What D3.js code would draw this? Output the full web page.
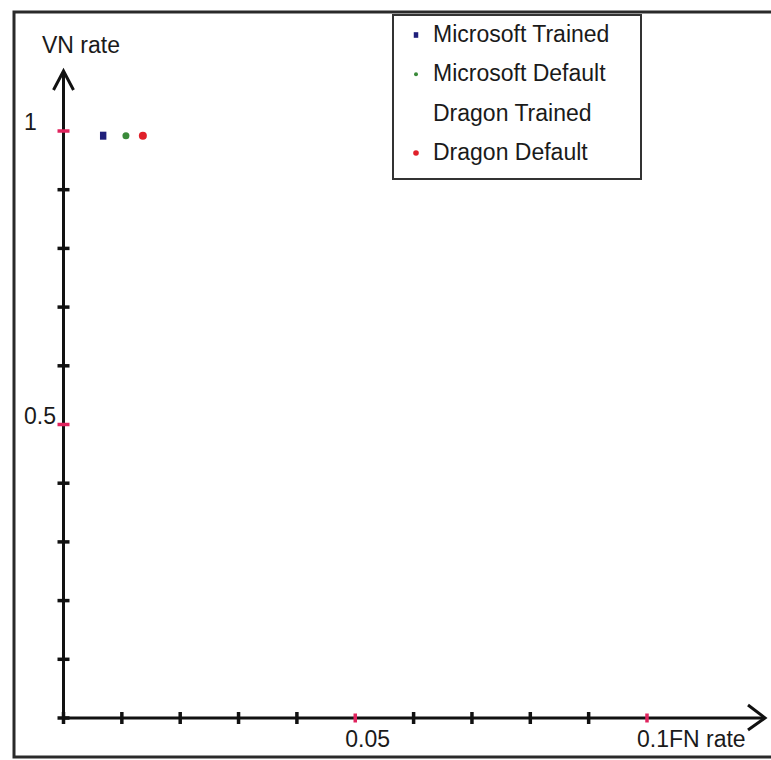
<!DOCTYPE html>
<html>
<head>
<meta charset="utf-8">
<script src="https://cdn.jsdelivr.net/npm/d3@7"></script>
<style>
  html, body { margin: 0; padding: 0; background: #fff; }
  svg { display: block; }
  text { font-family: "Liberation Sans", Arial, sans-serif; fill: #1a1a1a; }
</style>
</head>
<body>
<svg id="chart" width="771" height="760"></svg>
<script>
// Series and their measured (FN rate, VN rate) points
const seriesNames  = ["Microsoft Trained", "Microsoft Default", "Dragon Trained", "Dragon Default"];
const seriesColors = ["#1f1f7a", "#3a8a3a", "#ffffff", "#e0202a"];
const seriesShapes = ["square", "circle", "none", "circle"];
const fnRate = [0.0068, 0.0107, null, 0.0136];
const vnRate = [0.992, 0.992, null, 0.992];

// Axis ticks: minor every 0.01 / 0.1, highlighted (red) where labelled
const xTicks = d3.range(0, 0.1001, 0.01).map(v => +v.toFixed(2));
const yTicks = d3.range(0, 1.001, 0.1).map(v => +v.toFixed(1));
const xLabelled = [0.05, 0.1];
const xLabels = ["0.05", "0.1FN rate"];
const yLabelled = [1, 0.5];
const yLabels = ["1", "0.5"];
const yTitle = "VN rate";

const svg = d3.select("#chart");

// Frame around the whole figure
svg.append("rect")
  .attr("x", 14).attr("y", 12).attr("width", 780).attr("height", 745)
  .attr("fill", "none").attr("stroke", "#2a2a2a").attr("stroke-width", 3);

const x = d3.scaleLinear().domain([0, 0.1]).range([63.5, 647]);
const y = d3.scaleLinear().domain([0, 1]).range([718, 131]);

const axisColor = "#111";

// Axis lines with open arrowheads
const g = svg.append("g");
g.append("line").attr("x1", x(0)).attr("x2", 764).attr("y1", y(0)).attr("y2", y(0))
  .attr("stroke", axisColor).attr("stroke-width", 3);
g.append("line").attr("x1", x(0)).attr("x2", x(0)).attr("y1", y(0)).attr("y2", 72)
  .attr("stroke", axisColor).attr("stroke-width", 3);
g.append("path")
  .attr("d", `M${748},${705} L${765},${y(0)} L${748},${730}`)
  .attr("fill", "none").attr("stroke", axisColor).attr("stroke-width", 3)
  .attr("stroke-linejoin", "miter");
g.append("path")
  .attr("d", `M${x(0) - 10},${90} L${x(0)},${71} L${x(0) + 10},${90}`)
  .attr("fill", "none").attr("stroke", axisColor).attr("stroke-width", 3)
  .attr("stroke-linejoin", "miter");

// Tick marks crossing the axes
g.selectAll(".xt").data(xTicks).join("line")
  .attr("x1", d => x(d)).attr("x2", d => x(d))
  .attr("y1", d => y(0) - (xLabelled.includes(d) ? 4.5 : 6))
  .attr("y2", d => y(0) + (xLabelled.includes(d) ? 4.5 : 6))
  .attr("stroke", d => xLabelled.includes(d) ? "#e0245e" : axisColor)
  .attr("stroke-width", 3.5);
g.selectAll(".yt").data(yTicks).join("line")
  .attr("y1", d => y(d)).attr("y2", d => y(d))
  .attr("x1", x(0) - 6)
  .attr("x2", x(0) + 6)
  .attr("stroke", d => yLabelled.includes(d) ? "#e0245e" : axisColor)
  .attr("stroke-width", 3.5);

// Tick labels
const fs = 23;
svg.selectAll(".xl").data(xLabelled).join("text")
  .attr("x", d => x(d) - 10).attr("y", 747)
  .attr("font-size", fs)
  .text((d, i) => xLabels[i]);
svg.selectAll(".yl").data(yLabelled).join("text")
  .attr("x", 24).attr("y", d => y(d) - 1)
  .attr("font-size", fs)
  .text((d, i) => yLabels[i]);
svg.append("text").attr("x", 42).attr("y", 53).attr("font-size", fs).text(yTitle);

// Data points
function drawMarker(sel, shape, color, cx, cy, size) {
  if (shape === "square") {
    sel.append("rect").attr("x", cx - size * 0.8).attr("y", cy - size)
      .attr("width", size * 1.6).attr("height", size * 2).attr("fill", color);
  } else if (shape === "circle") {
    sel.append("circle").attr("cx", cx).attr("cy", cy).attr("r", size).attr("fill", color);
  }
}
const pts = svg.append("g");
seriesNames.forEach((name, i) => {
  if (fnRate[i] == null) return;
  drawMarker(pts, seriesShapes[i], seriesColors[i], x(fnRate[i]), y(vnRate[i]), i === 3 ? 4 : (i === 0 ? 4 : 3.5));
});

// Legend
const leg = svg.append("g");
leg.append("rect").attr("x", 393).attr("y", 15).attr("width", 248).attr("height", 164)
  .attr("fill", "#fff").attr("stroke", "#333").attr("stroke-width", 2);
const legY = d3.scalePoint().domain(seriesNames).range([42, 160]);
seriesNames.forEach((name, i) => {
  const by = legY(name);
  drawMarker(leg, seriesShapes[i], seriesColors[i], 416, by - 7, i === 1 ? 2 : 2.8);
  leg.append("text").attr("x", 433).attr("y", by).attr("font-size", fs).text(name);
});
</script>
</body>
</html>
